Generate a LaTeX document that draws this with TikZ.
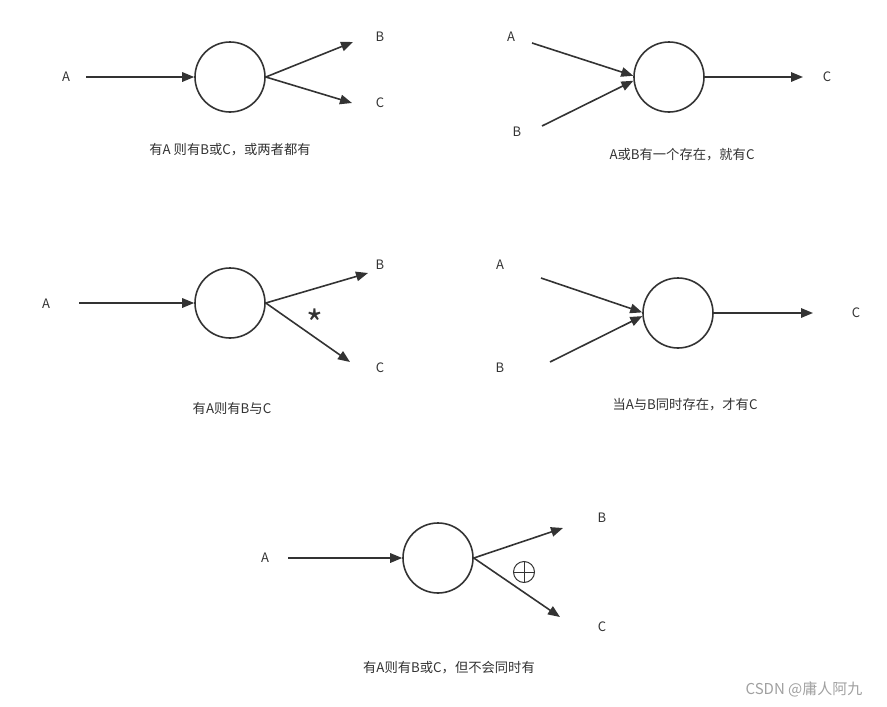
\documentclass[tikz,border=0pt]{standalone}
\usepackage{fontspec}
\setmainfont{Noto Sans CJK SC}
\usepackage{xcolor}
\usepackage{tikz}
\usetikzlibrary{positioning,arrows.meta}
\definecolor{ink}{HTML}{333333}
\definecolor{wmgray}{HTML}{A0A0A0}

\begin{document}
\begin{tikzpicture}[x=1pt,y=-1pt,
    gate/.style={draw=ink,circle,line width=1.6pt,minimum size=70pt,inner sep=0pt},
    lbl/.style={text=ink,inner sep=0pt,font=\fontsize{13}{15}\selectfont},
    caption/.style={text=ink,inner sep=0pt,font=\fontsize{13.3}{15}\selectfont},
    asterisk/.style={text=ink,inner sep=0pt,font=\fontsize{36}{36}\selectfont},
    xorsym/.style={draw=ink,circle,line width=1pt,minimum size=21pt,inner sep=0pt,
                   path picture={\draw[ink,line width=1pt]
                     (path picture bounding box.north) -- (path picture bounding box.south)
                     (path picture bounding box.west) -- (path picture bounding box.east);}},
    wm/.style={text=wmgray,inner sep=0pt,font=\fontsize{15}{17}\selectfont},
    arrow/.style={-{Triangle[length=12pt,width=9.5pt]},line width=1.6pt,ink}]
  \useasboundingbox (0,0) rectangle (887,707);

  \node[gate] (n1) at (230,77) {};
  \node[lbl] (a1) at (66,77) {A};
  \node[lbl] (b1) at (380,37) {B};
  \node[lbl] (c1) at (380,103) {C};
  \coordinate (a1e) at (86,77);
  \coordinate (b1e) at (353,42);
  \coordinate (c1e) at (352,103);
  \draw[arrow] (a1e) -- (n1.west);
  \draw[arrow] (n1.east) -- (b1e);
  \draw[arrow] (n1.east) -- (c1e);
  \node[caption] (cap1) at (230,150) {有A 则有B或C，或两者都有};

  \node[gate] (n2) at (669,77) {};
  \node[lbl] (a2) at (511,37) {A};
  \node[lbl] (b2) at (517,132) {B};
  \node[lbl] (c2) at (827,77) {C};
  \coordinate (a2e) at (532,43);
  \coordinate (b2e) at (542,126);
  \coordinate (c2e) at (803,77);
  \draw[arrow] (a2e) -- (n2.178);
  \draw[arrow] (b2e) -- (n2.186);
  \draw[arrow] (n2.east) -- (c2e);
  \node[caption] (cap2) at (682,155) {A或B有一个存在，就有C};

  \node[gate] (n3) at (230,303) {};
  \node[lbl] (a3) at (46,304) {A};
  \node[lbl] (b3) at (380,265) {B};
  \node[lbl] (c3) at (380,368) {C};
  \coordinate (a3e) at (79,303);
  \coordinate (b3e) at (368,273);
  \coordinate (c3e) at (350,362);
  \draw[arrow] (a3e) -- (n3.west);
  \draw[arrow] (n3.east) -- (b3e);
  \draw[arrow] (n3.east) -- (c3e);
  \node[asterisk] (s3) at (315,323) {*};
  \node[caption] (cap3) at (232,408) {有A则有B与C};

  \node[gate] (n4) at (678,313) {};
  \node[lbl] (a4) at (500,265) {A};
  \node[lbl] (b4) at (500,368) {B};
  \node[lbl] (c4) at (856,313) {C};
  \coordinate (a4e) at (541,278);
  \coordinate (b4e) at (550,362);
  \coordinate (c4e) at (813,313);
  \draw[arrow] (a4e) -- (n4.179);
  \draw[arrow] (b4e) -- (n4.185);
  \draw[arrow] (n4.east) -- (c4e);
  \node[caption] (cap4) at (685,405) {当A与B同时存在，才有C};

  \node[gate] (n5) at (438,558) {};
  \node[lbl] (a5) at (265,558) {A};
  \node[lbl] (b5) at (602,518) {B};
  \node[lbl] (c5) at (602,627) {C};
  \coordinate (a5e) at (288,558);
  \coordinate (b5e) at (563,528);
  \coordinate (c5e) at (560,617);
  \draw[arrow] (a5e) -- (n5.west);
  \draw[arrow] (n5.east) -- (b5e);
  \draw[arrow] (n5.east) -- (c5e);
  \node[xorsym] (x5) at (524,572) {};
  \node[caption] (cap5) at (449,668) {有A则有B或C，但不会同时有};

  \node[wm] (wm) at (804,689) {CSDN @庸人阿九};
\end{tikzpicture}
\end{document}
